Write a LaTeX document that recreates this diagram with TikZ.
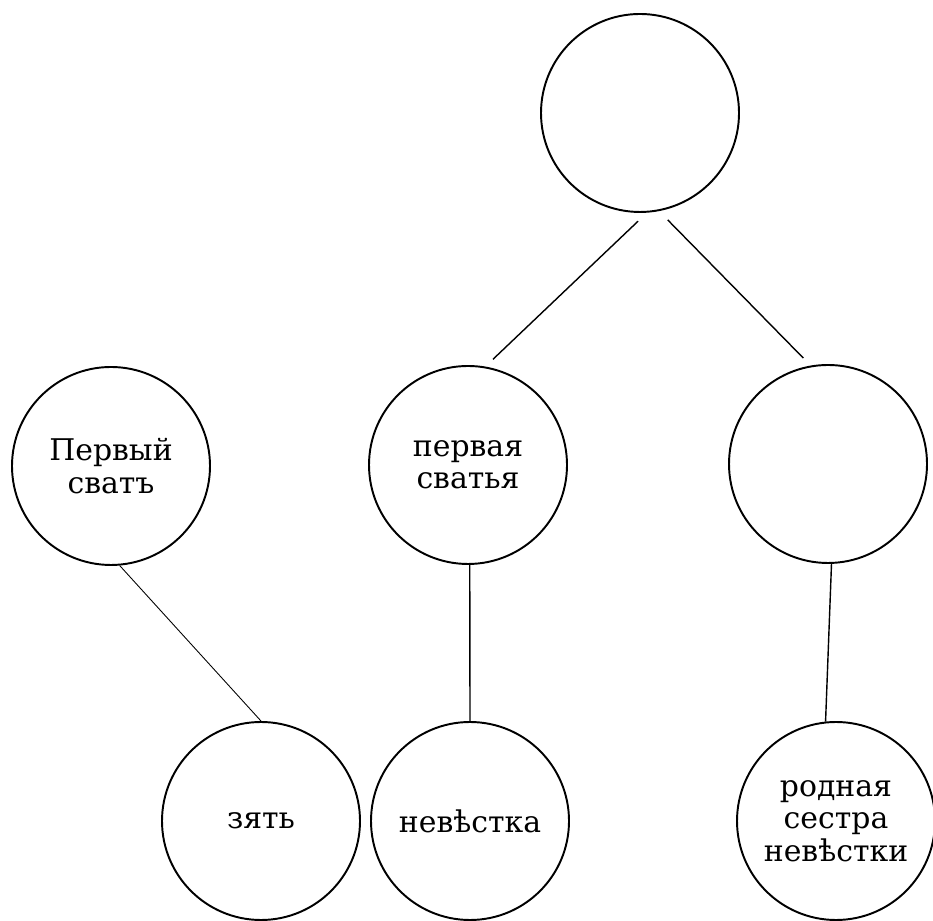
\documentclass[tikz,border=0pt]{standalone}
\usepackage{fontspec}
\setmainfont{DejaVu Serif}
\usepackage{tikz}
\usetikzlibrary{positioning}

\begin{document}
\begin{tikzpicture}[person/.style={draw, circle, line width=1.1pt, minimum size=3.96cm, inner sep=0pt, align=center, font=\fontsize{17}{18.5}\selectfont},
		link/.style={line width=0.8pt}]
		% 1. Fix the page size (933 x 920 px, 1 px = 0.02 cm)
		\useasboundingbox (0,0) rectangle (18.66,18.4);

		% 2. Draw the Circles
		% Top row
		\node[person] (top) at (12.8, 16.14) {};
		% Middle row
		\node[person] (svat) at (2.22, 9.08) {Первый\\сватъ};
		\node[person] (svatja) at (9.36, 9.10) {первая\\сватья};
		\node[person] (sibling) at (16.56, 9.12) {};
		% Bottom row
		\node[person] (zjat) at (5.22, 1.98) {зять};
		\node[person] (nevestka) at (9.40, 1.98) {невѣстка};
		\node[person] (sestra) at (16.72, 1.98) {родная\\сестра\\невѣстки};

		% 3. Draw the Lines
		% From the top circle (they stop short of the circles)
		\draw[link, shorten <=7pt, shorten >=6pt] (top.-86) -- (svatja.80);
		\draw[link, shorten <=7pt, shorten >=6pt] (top.-79) -- (sibling.100);
		% Down to the bottom row
		\draw[line width=0.5pt] (svat.-85) -- (zjat.north);
		\draw[link] (svatja.-89) -- (nevestka.north);
		\draw[link] (sibling.-88) -- (sestra.96);
	\end{tikzpicture}
\end{document}
